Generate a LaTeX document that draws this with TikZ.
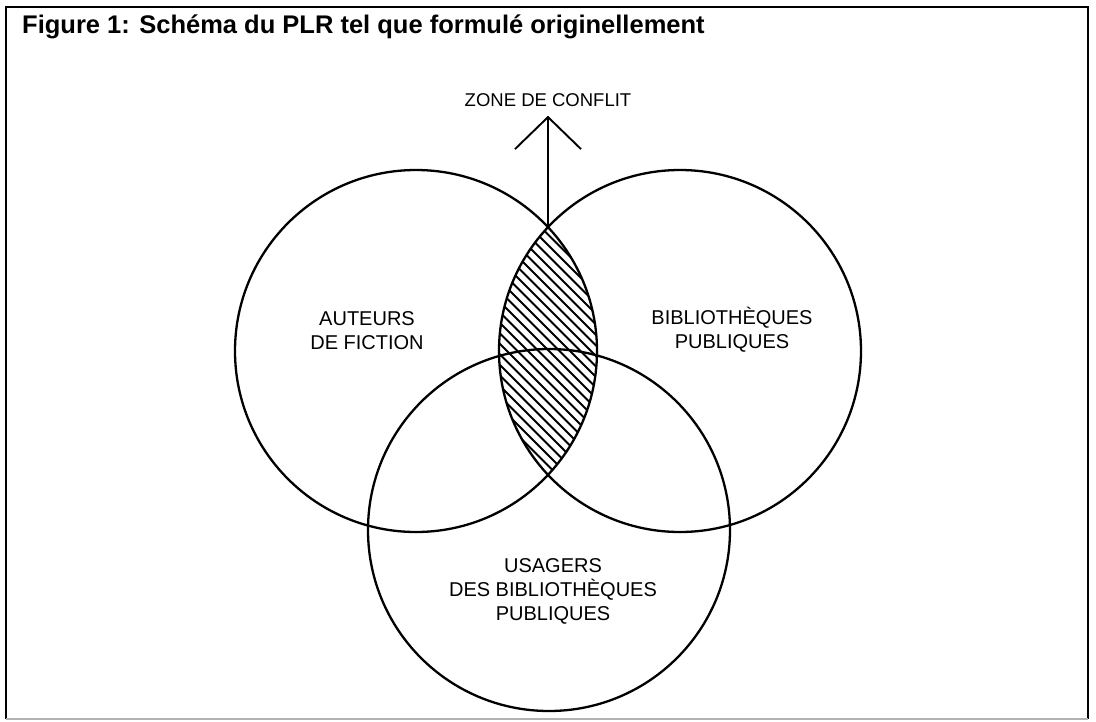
\documentclass[tikz,border=0pt]{standalone}
\usepackage{fontspec}
\setmainfont{Liberation Sans}
\usetikzlibrary{arrows.meta, positioning}

\begin{document}
\begin{tikzpicture}[x=1pt, y=-1pt,
    venn/.style={line width=2.3pt},
    hatchline/.style={line width=1.8pt},
    lbl/.style={align=center, font=\fontsize{20}{24}\selectfont, inner sep=0pt},
    frameline/.style={line width=2pt}]
  \useasboundingbox (0,0) rectangle (1096,721);
  % frame and title
  \draw[frameline] (6,719) -- (6,7) -- (1088,7) -- (1088,719);
  \draw[frameline, black!30] (6,719) -- (1088,719);
  \node[anchor=base west, inner sep=0pt, font=\bfseries\fontsize{25.5}{30}\selectfont] (titre) at (22,33)
    {Figure 1: Schéma du PLR tel que formulé originellement};
  % circle centres
  \coordinate (auteurs) at (416,351);
  \coordinate (biblio) at (680,351);
  \coordinate (usagers) at (549,530);
  % hatched lens
  \begin{scope}
    \clip (auteurs) circle[radius=181];
    \clip (biblio) circle[radius=181];
    \foreach \k in {-18,...,18}
      \draw[hatchline] (348+\k*10.5,150) -- ++(400,400);
  \end{scope}
  % outlines
  \foreach \c in {auteurs, biblio, usagers}
    \draw[venn] (\c) circle[radius=181];
  % labels
  \node[lbl] (auteurs-lbl) at (367,331) {AUTEURS\\DE FICTION};
  \node[lbl] (biblio-lbl) at (732,330) {BIBLIOTHÈQUES\\PUBLIQUES};
  \node[lbl] (usagers-lbl) at (553,591) {USAGERS\\DES BIBLIOTHÈQUES\\PUBLIQUES};
  \node[lbl, font=\fontsize{18.5}{22}\selectfont] (zone) at (548,100) {ZONE DE CONFLIT};
  % arrow to the conflict zone
  \coordinate (conflit) at (548,226);
  \draw[line width=1.9pt, shorten >=9pt, -{Straight Barb[length=32pt, width=66pt]}] (conflit) -- (zone.south);
\end{tikzpicture}
\end{document}
